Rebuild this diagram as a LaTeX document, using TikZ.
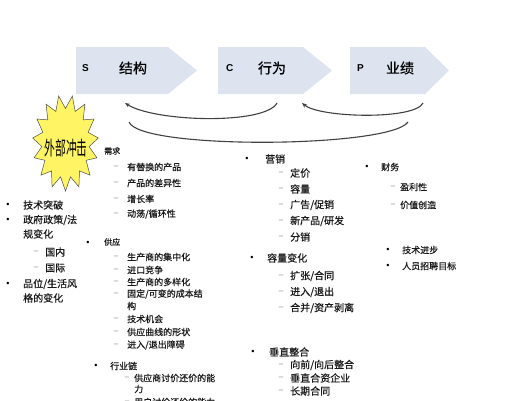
\documentclass[tikz,border=0pt]{standalone}
\usepackage{fontspec}
\setmainfont{Noto Sans CJK SC}[FakeBold=0.6]
\newfontfamily\latfont{Liberation Sans}
\newfontfamily\shockfont{Noto Sans CJK SC}
\usetikzlibrary{arrows.meta}

\definecolor{boxfill}{RGB}{221,228,239}
\definecolor{burst}{RGB}{255,245,100}
\definecolor{linegray}{RGB}{65,65,65}

\begin{document}
\begin{tikzpicture}[x=1pt,y=-1pt,
	lbl/.style={inner sep=0pt, anchor=west, text=black!90},
	bul/.style={inner sep=0pt, font=\latfont\fontsize{9}{9}\selectfont},
	dsh/.style={inner sep=0pt, text=gray, font=\latfont\fontsize{8}{8}\selectfont},
	letter/.style={inner sep=0pt, anchor=west, font=\latfont\bfseries\fontsize{10}{10}\selectfont},
	stage/.style={inner sep=0pt, font=\fontsize{14}{14}\selectfont},
	feedback/.style={linegray, line width=1.1pt},
	tip/.style={-{Stealth[length=5pt,width=4pt]}}
	]
	\useasboundingbox (0,0) rectangle (507,400);
	
	% Parameters
	\def\yA{47}   % top of the chevrons
	\def\yB{94}   % bottom of the chevrons
	
	% -----------------------------
	% S - C - P chevrons
	% -----------------------------
	\foreach \xa/\xb/\xc in {76/168/197, 218/303/332, 350/425/449} {
		\fill[boxfill] (\xa,\yA) -- (\xb,\yA) -- (\xc,{(\yA+\yB)/2}) -- (\xb,\yB) -- (\xa,\yB) -- cycle;
	}
	\node[letter] (sLetter) at (82,68) {S};
	\node[stage] (sName) at (133,68) {结构};
	\node[letter] (cLetter) at (226,68) {C};
	\node[stage] (cName) at (272,68) {行为};
	\node[letter] (pLetter) at (357,68) {P};
	\node[stage] (pName) at (400,68) {业绩};
	
	% Feedback curves
	\coordinate (sIn) at (125,103);
	\coordinate (sTail) at (129,122);
	\coordinate (cOut) at (277,103);
	\coordinate (cIn) at (302,103);
	\coordinate (pOut) at (423,103);
	\coordinate (pTail) at (408,122);
	\draw[feedback, tip] (cOut) .. controls (265,125) and (155,122) .. (sIn);
	\draw[feedback] (sTail) .. controls (140,150) and (390,148) .. (pTail);
	\draw[feedback, tip] (pOut) .. controls (415,120) and (320,118) .. (cIn);
	
	% -----------------------------
	% External shock burst
	% -----------------------------
	\begin{scope}[shift={(65.5,143)}]
		\filldraw[fill=burst, draw=gray!60!black, line width=0.5pt]
		(90:33 and 48) \foreach \i [evaluate=\i as \rr using {mod(\i,2)==0 ? 1 : 0.72}] in {1,...,29} {
			-- ({90+\i*12}:{33*\rr} and {48*\rr})
		} -- cycle;
	\end{scope}
	\node[inner sep=0pt, font=\shockfont\fontsize{15}{15}\selectfont, xscale=0.72, yscale=1.3] (shock) at (66,148) {外部冲击};
	
	% -----------------------------
	% Left column
	% -----------------------------
	\begin{scope}[font=\fontsize{10}{10}\selectfont]
		\foreach \y/\t in {205/技术突破, 220/{政府政策/法}, 284/{品位/生活风}} {
			\node[bul] (lb\y) at (8,\y) {•};
			\node[lbl] (lt\y) at (23,\y) {\t};
		}
		\foreach \y/\t in {234/规变化, 298/格的变化}
		\node[lbl] (lt\y) at (23,\y) {\t};
		\foreach \y/\t in {252/国内, 268/国际} {
			\node[dsh] (ld\y) at (36,\y) {–};
			\node[lbl] (lt\y) at (45,\y) {\t};
		}
	\end{scope}
	
	% -----------------------------
	% Structure column
	% -----------------------------
	\node[lbl, font=\fontsize{8}{8}\selectfont] (demand) at (104,151) {需求};
	\node[bul] (supplyB) at (88,243) {•};
	\node[lbl, font=\fontsize{8}{8}\selectfont] (supply) at (104,242) {供应};
	\begin{scope}[font=\fontsize{9}{9}\selectfont]
		\foreach \y/\t in {167/有替换的产品, 183/产品的差异性, 199/增长率, 214/{动荡/循环性},
			257/生产商的集中化, 270/进口竞争, 282/生产商的多样化, 294/{固定/可变的成本结},
			319/技术机会, 332/供应曲线的形状, 345/{进入/退出障碍}} {
			\node[dsh] (md\y) at (116,\y) {–};
			\node[lbl] (mt\y) at (127,\y) {\t};
		}
		\node[lbl] (mt306) at (127,306) {构};
		\node[bul] (chainB) at (96,366) {•};
		\node[lbl] (chain) at (110,366) {行业链};
		\foreach \y/\t in {378/供应商讨价还价的能, 402/用户讨价还价的能力} {
			\node[dsh] (cd\y) at (127,\y) {–};
			\node[lbl] (ct\y) at (134,\y) {\t};
		}
		\node[lbl] (ct389) at (134,389) {力};
	\end{scope}
	
	% -----------------------------
	% Conduct column
	% -----------------------------
	\begin{scope}[font=\fontsize{10}{10}\selectfont]
		\foreach \y/\xb/\xt/\t in {159/247/265/营销, 258/252/267/容量变化, 352/253/269/垂直整合} {
			\node[bul] (kb\y) at (\xb,\y) {•};
			\node[lbl] (kt\y) at (\xt,\y) {\t};
		}
		\foreach \y/\t in {173/定价, 189/容量, 205/{广告/促销}, 221/{新产品/研发}, 237/分销,
			276/{扩张/合同}, 292/{进入/退出}, 308/{合并/资产剥离},
			365/{向前/向后整合}, 378/垂直合资企业, 391/长期合同} {
			\node[dsh] (kd\y) at (281,\y) {–};
			\node[lbl] (ks\y) at (290,\y) {\t};
		}
	\end{scope}
	
	% -----------------------------
	% Performance column
	% -----------------------------
	\begin{scope}[font=\fontsize{9}{9}\selectfont]
		\node[bul] (finB) at (367,167) {•};
		\node[lbl] (fin) at (381,167) {财务};
		\foreach \y/\t in {187/盈利性, 205/价值创造} {
			\node[dsh] (pd\y) at (393,\y) {–};
			\node[lbl] (ps\y) at (400,\y) {\t};
		}
		\foreach \y/\t in {250/技术进步, 266/人员招聘目标} {
			\node[bul] (pb\y) at (388,\y) {•};
			\node[lbl] (pt\y) at (402,\y) {\t};
		}
	\end{scope}
	
\end{tikzpicture}
\end{document}
